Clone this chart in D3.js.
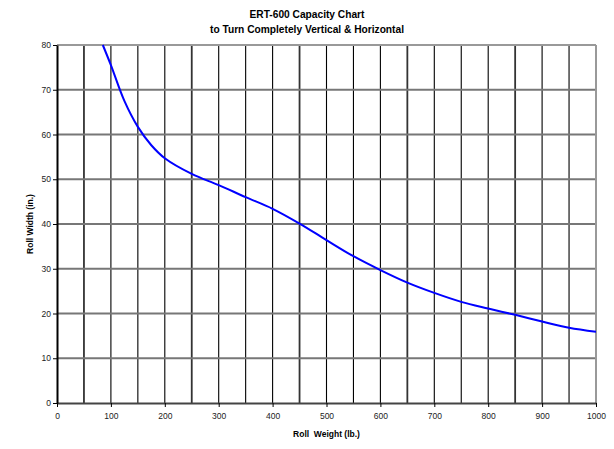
<!DOCTYPE html>
<html><head><meta charset="utf-8">
<script src="https://cdn.jsdelivr.net/npm/d3@7"></script>
<style>body{margin:0;background:#fff}svg{display:block}text{font-family:"Liberation Sans",Arial,sans-serif}</style>
</head><body>
<svg id="c" width="614" height="449"></svg>
<script>
const titleLines = ["ERT-600 Capacity Chart", "to Turn Completely Vertical & Horizontal"];
const xLabel = "Roll  Weight (lb.)";
const yLabel = "Roll Width (in.)";
const xTicks = [0,100,200,300,400,500,600,700,800,900,1000];
const yTicks = [0,10,20,30,40,50,60,70,80];
const weights = [85,100,125,150,175,200,250,300,350,400,450,500,550,600,650,700,750,800,850,900,950,1000];
const widths  = [80,75.5,67.5,61.7,57.6,54.7,51.2,48.7,46,43.4,40.1,36.4,32.8,29.7,26.9,24.6,22.6,21.1,19.7,18.2,16.8,15.9];

const svg = d3.select("#c");
const x = d3.scaleLinear().domain([0,1000]).range([57,596]);
const y = d3.scaleLinear().domain([0,80]).range([403,45]);

// vertical gridlines
const vgrid = d3.range(50,1000,50);
svg.append("g").selectAll("line").data(vgrid).join("line")
  .attr("x1",d=>x(d)).attr("x2",d=>x(d)).attr("y1",y(80)).attr("y2",y(0))
  .attr("stroke",d=>((d-50)%200===0)?"#333":"#000")
  .attr("stroke-width",d=>((d-50)%200===0)?1.8:1.1);
// horizontal gridlines
svg.append("g").selectAll("line").data(yTicks.filter(d=>d>0)).join("line")
  .attr("x1",x(0)).attr("x2",x(1000)).attr("y1",d=>y(d)).attr("y2",d=>y(d))
  .attr("stroke",d=>d===80?"#999":"#777").attr("stroke-width",2);
// right border
svg.append("line").attr("x1",x(1000)).attr("x2",x(1000)).attr("y1",y(80)).attr("y2",y(0))
  .attr("stroke","#999").attr("stroke-width",2);

// axes
const xAxis = d3.axisBottom(x).tickValues(xTicks).tickFormat(d3.format("d")).tickSize(4).tickSizeOuter(0);
const gx = svg.append("g").attr("transform",`translate(0,${y(0)})`).call(xAxis);
gx.select(".domain").attr("stroke","#444").attr("stroke-width",2);
gx.selectAll(".tick line").attr("stroke","#000");
gx.selectAll("text").attr("font-size",8.5).attr("fill","#222").attr("dy","1.1em");

const yAxis = d3.axisLeft(y).tickValues(yTicks).tickFormat(d3.format("d")).tickSize(4).tickSizeOuter(0);
const gy = svg.append("g").attr("transform",`translate(${x(0)},0)`).call(yAxis);
gy.select(".domain").attr("stroke","#000").attr("stroke-width",2);
gy.selectAll(".tick line").attr("stroke","#000");
gy.selectAll("text").attr("font-size",8.5).attr("fill","#222").attr("x",-6);

// curve
const line = d3.line().x((d,i)=>x(weights[i])).y((d,i)=>y(widths[i])).curve(d3.curveCatmullRom.alpha(0.5));
svg.append("path").attr("d",line(weights)).attr("fill","none").attr("stroke","#0000ff").attr("stroke-width",2);

// titles
svg.append("g").selectAll("text").data(titleLines).join("text")
  .attr("x",307).attr("y",(d,i)=>18+i*14.5).attr("text-anchor","middle")
  .attr("font-size",10.2).attr("font-weight","bold").text(d=>d);
svg.append("text").attr("x",x(500)).attr("y",437).attr("text-anchor","middle")
  .attr("font-size",8.5).attr("font-weight","bold").attr("xml:space","preserve").style("white-space","pre").text(xLabel);
svg.append("text").attr("transform",`translate(33,${y(40)}) rotate(-90)`).attr("text-anchor","middle")
  .attr("font-size",8.5).attr("font-weight","bold").text(yLabel);
</script>
</body></html>
